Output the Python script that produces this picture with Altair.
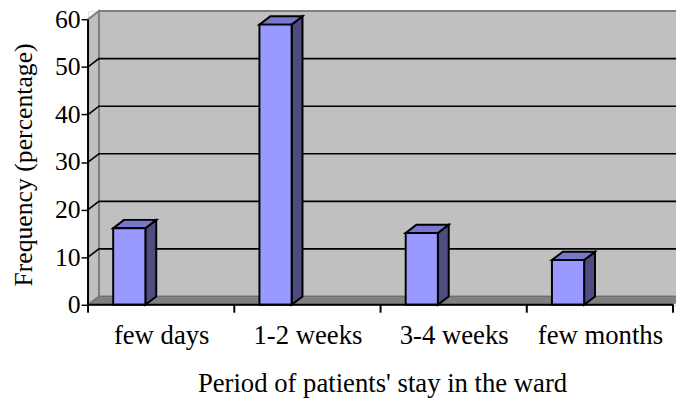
import altair as alt
import pandas as pd

# ---- data ----
categories = ["few days", "1-2 weeks", "3-4 weeks", "few months"]
values = [16.1, 58.9, 15.1, 9.4]
y_ticks = [0, 10, 20, 30, 40, 50, 60]
grid_values = [10, 20, 30, 40, 50]
x_title = "Period of patients' stay in the ward"
y_title = "Frequency (percentage)"

# ---- pseudo-3D geometry (in scale units) ----
N = len(categories)
YTOP = y_ticks[-1]
XMAX = 595 / 148.0
YMAX = 61.7
DX = 11 / 148.0          # depth offset along x (category units)
DY = 1.75                # depth offset along y (value units)
BAR_OFF = 0.172
BAR_W = 0.22

FONT = "Times New Roman, Liberation Serif, serif"
FS = 26
FSX = 27

xs = alt.Scale(domain=[0, XMAX], nice=False, zero=False)
ys = alt.Scale(domain=[0, YMAX], nice=False, zero=False)

label_expr = "[" + ",".join("'%s'" % c for c in categories) + "][floor(datum.value)]"

X_AXIS = alt.Axis(
    values=[i + 0.5 for i in range(N)], labelExpr=label_expr,
    ticks=False, domain=False, grid=False,
    labelFont=FONT, labelFontSize=FSX, labelColor="black",
    labelBaseline="alphabetic", labelPadding=39, labelAlign="center",
    title=x_title, titleFont=FONT, titleFontSize=FSX, titleFontWeight="normal",
    titleColor="black", titleBaseline="alphabetic", titleY=88, titleAnchor="middle",
)
Y_AXIS = alt.Axis(
    values=y_ticks, domain=False, grid=False,
    tickColor="black", tickSize=7, tickWidth=1.5,
    labelFont=FONT, labelFontSize=FS, labelColor="black", labelPadding=1,
    title=y_title, titleFont=FONT, titleFontSize=FS, titleFontWeight="normal",
    titleColor="black", titleAngle=270, titleAlign="center",
    titleBaseline="alphabetic", titleX=-57, titleY=155,
)


def X(field="x"):
    return alt.X(field + ":Q", scale=xs, axis=X_AXIS)


def Y(field="y"):
    return alt.Y(field + ":Q", scale=ys, axis=Y_AXIS, stack=None)


# back wall
df_back = pd.DataFrame([{"x": DX, "x2": N + DX + 0.2, "y": DY, "y2": YTOP + DY}])
back = alt.Chart(df_back).mark_rect(fill="#C0C0C0", stroke="#808080", strokeWidth=2).encode(
    x=X(), x2="x2:Q", y=Y(), y2="y2:Q")

# left wall
df_left = pd.DataFrame([{"x": 0, "y": YTOP, "y2": 0}, {"x": DX, "y": YTOP + DY, "y2": DY}])
left = alt.Chart(df_left).mark_area(orient="vertical", fill="#C0C0C0", stroke="#808080",
                                    strokeWidth=2).encode(x=X(), y=Y(), y2="y2:Q")

# floor
df_floor = pd.DataFrame([{"y": 0, "x": 0, "x2": N}, {"y": DY, "x": DX, "x2": N + DX}])
floor = alt.Chart(df_floor).mark_area(orient="horizontal", fill="#808080", stroke="#6E6E6E",
                                      strokeWidth=1).encode(y=Y(), x=X(), x2="x2:Q")

# gridlines (diagonal on the side wall, then across the back wall)
grid_rows = []
for v in grid_values:
    grid_rows += [{"g": v, "x": 0, "y": v}, {"g": v, "x": DX, "y": v + DY},
                  {"g": v, "x": N + DX + 0.2, "y": v + DY}]
grid = alt.Chart(pd.DataFrame(grid_rows)).mark_line(color="black", strokeWidth=1.6).encode(
    x=X(), y=Y(), detail="g:N")

# bars
front_rows, side_rows, top_rows = [], [], []
for i, v in enumerate(values):
    x0 = i + BAR_OFF
    x1 = x0 + BAR_W
    front_rows.append({"b": i, "x": x0, "x2": x1, "y": 0, "y2": v})
    for t in (0, 1):
        side_rows.append({"b": i, "x": x1 + t * DX, "y": v + t * DY, "y2": t * DY})
        top_rows.append({"b": i, "y": v + t * DY, "x": x0 + t * DX, "x2": x1 + t * DX})

bar_side = alt.Chart(pd.DataFrame(side_rows)).mark_area(
    orient="vertical", fill="#4D4D80", stroke="black", strokeWidth=2, strokeJoin="miter").encode(
    x=X(), y=Y(), y2="y2:Q", detail="b:N")
bar_top = alt.Chart(pd.DataFrame(top_rows)).mark_area(
    orient="horizontal", fill="#7777CC", stroke="black", strokeWidth=2, strokeJoin="miter").encode(
    y=Y(), x=X(), x2="x2:Q", detail="b:N")
bar_front = alt.Chart(pd.DataFrame(front_rows)).mark_rect(
    fill="#9999FF", stroke="black", strokeWidth=2).encode(
    x=X(), x2="x2:Q", y=Y(), y2="y2:Q")

# axis lines and x ticks
xaxis_line = alt.Chart(pd.DataFrame([{"x": 0, "x2": N, "y": 0}])).mark_rule(
    color="black", strokeWidth=2).encode(x=X(), x2="x2:Q", y=Y())
yaxis_line = alt.Chart(pd.DataFrame([{"x": 0, "y": 0, "y2": YTOP}])).mark_rule(
    color="black", strokeWidth=2).encode(x=X(), y=Y(), y2="y2:Q")
xticks = alt.Chart(pd.DataFrame({"x": list(range(N + 1))})).mark_rule(
    color="black", strokeWidth=2).encode(x=X(), y=alt.value(297), y2=alt.value(305))

chart = alt.layer(
    back, left, floor, grid, bar_side, bar_top, bar_front, xaxis_line, yaxis_line, xticks
).properties(
    width=595, height=297,
    autosize=alt.AutoSizeParams(type="none"),
    padding={"left": 81, "top": 1, "right": 0, "bottom": 94},
    background="white",
).configure_view(stroke=None).configure(font=FONT)

chart.save("out.html", embed_options={"renderer": "svg", "actions": False})
